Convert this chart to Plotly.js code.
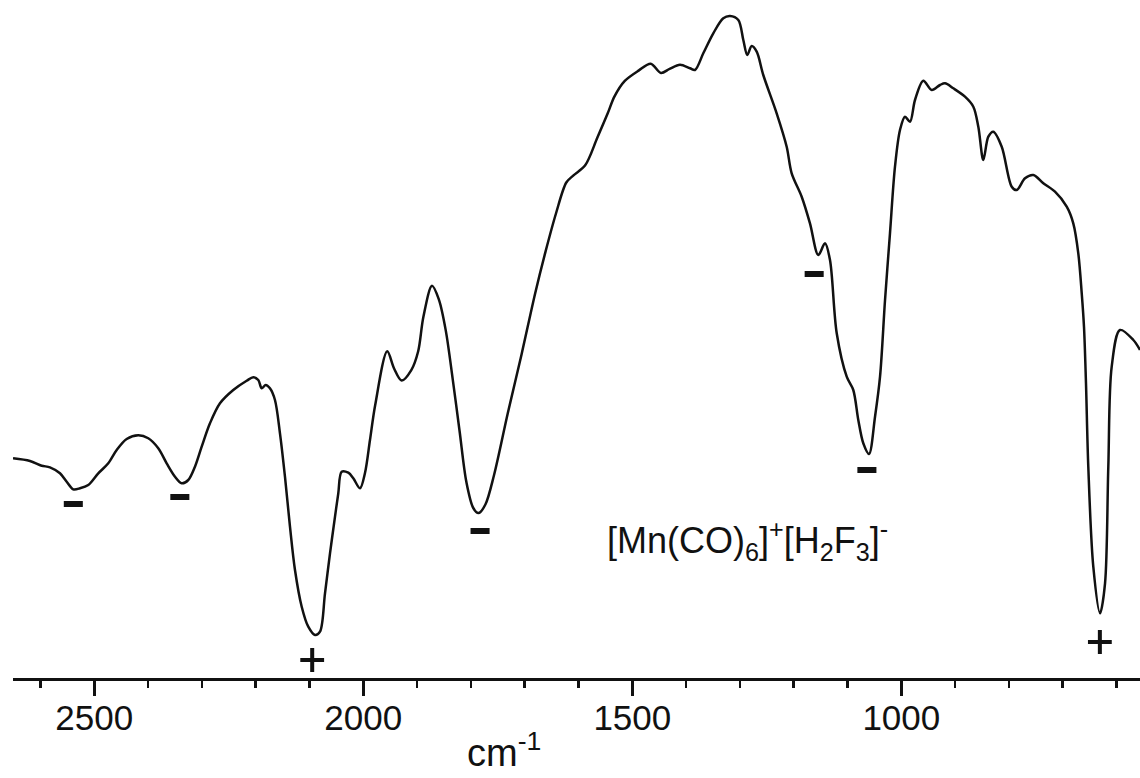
<!DOCTYPE html>
<html>
<head>
<meta charset="utf-8">
<script src="https://cdn.plot.ly/plotly-3.0.1.min.js"></script>
<style>
html,body{margin:0;padding:0;background:#fff;}
#chart{width:1140px;height:778px;}
</style>
</head>
<body>
<div id="chart"></div>
<script>
// IR spectrum of [Mn(CO)6]+[H2F3]- (transmittance, arbitrary units)
var wavenumber = [2651,2619.5,2597.8,2582.4,2563.8,2551.3,2539.1,2526.6,2511.2,2492.6,2474.0,2458.4,2439.8,2418.2,2399.7,2381.1,2365.5,2350.0,2337.6,2325.3,2312.9,2300.4,2285.0,2266.4,2241.7,2216.8,2204.5,2195.2,2188.9,2181.4,2173.5,2164.2,2154.9,2145.6,2136.3,2127.0,2114.5,2102.3,2089.8,2080.5,2071.2,2061.9,2052.6,2046.5,2040.2,2027.9,2018.6,2006.2,1996.9,1987.6,1977.9,1955.6,1942.8,1928.7,1910.8,1898.0,1888.3,1872.3,1859.5,1846.7,1833.9,1821.2,1808.4,1795.6,1785.9,1773.1,1757.1,1731.5,1706.0,1680.3,1661.2,1641.9,1622.7,1609.9,1587.6,1565.1,1545.9,1533.1,1514.0,1488.3,1465.8,1446.7,1430.7,1411.4,1392.8,1383.5,1368.1,1349.5,1330.9,1318.4,1303.0,1293.7,1286.3,1278.1,1268.8,1256.6,1231.7,1213.1,1203.8,1185.2,1169.8,1154.3,1141.9,1132.6,1120.1,1101.5,1089.3,1080.0,1070.7,1060.1,1048.9,1039.6,1030.3,1021.1,1011.8,1002.5,993.2,983.9,974.6,959.2,943.5,928.1,918.8,903.4,881.7,866.2,856.9,847.6,838.3,829.0,813.4,794.8,785.5,770.1,754.7,736.1,714.4,692.6,680.4,671.1,664.7,660.5,656.8,652.5,643.2,630.7,621.4,615.3,609.0,593.6,568.8,556.4];
var transmittance = [219.7,217,212.3,210.7,204.7,196.3,188.7,189.7,193,204.7,214.7,228,239,242.7,239.7,229.7,214.7,201.3,194.7,198,211.3,231.3,254.7,274.7,288,297.3,300.7,298,289.7,293,289.7,278,244.7,201.3,151.3,108,71.3,51.3,43,46.3,84.7,124.7,161.3,184.7,206.3,205.3,199.7,189.7,205,238,273,326.7,309.5,297.4,307.8,326.7,361.2,392.2,378.4,347.4,299.2,247.5,195.9,170,164.9,173.5,202.7,264.7,323.3,385.3,426.6,464.5,495.5,502.4,512.7,540.2,564.4,581.6,597.1,607.4,614.3,605.0,609.1,613.3,609.7,608,624.7,644.7,659.7,662,658,638,623,632,626.3,603,564.7,531.3,504.7,481.3,454.7,423,434.7,418,344.7,301.3,288,258,234.7,224,261.3,301.3,378,444.7,511.3,548,561.3,556.3,578,597.3,588,593,594.7,589.7,581.3,571.3,551.3,518,541.3,546.3,531.3,491.3,488,499.7,503,494.7,486.3,471.3,454.7,424.7,384.7,351.3,295,211.3,111.3,64.7,94.7,211.3,311.3,348,338,328];

// band markers: "−" (decrease) and "+" (increase)
var minusWn = [2539, 2341, 1783, 1162, 1064];
var minusY  = [174, 181, 147, 404, 208];
var plusWn  = [2095, 631];
var plusY   = [18, 36];

var compoundLabel = '[Mn(CO)<sub>6</sub>]<sup>+</sup>[H<sub>2</sub>F<sub>3</sub>]<sup>-</sup>';
var labelWn = 1286, labelY = 138;
var axisTitle = 'cm<sup>-1</sup>';

var xTickVals = [2500, 2000, 1500, 1000];
var xRange = [2651.1, 556.4];

var FONT = 'Liberation Sans, Arial, Helvetica, sans-serif';

var traces = [
  {x: wavenumber, y: transmittance, type: 'scatter', mode: 'lines',
   line: {color: '#111', width: 2.5, shape: 'spline', smoothing: 0.9}, hoverinfo: 'x+y'},
  {x: minusWn, y: minusY, type: 'scatter', mode: 'markers',
   marker: {symbol: 'line-ew', size: 13.6, color: '#111', line: {color: '#111', width: 6}}},
  {x: plusWn, y: plusY, type: 'scatter', mode: 'markers',
   marker: {symbol: 'cross-thin', size: 17, color: '#111', line: {color: '#111', width: 4}}}
];

var layout = {
  width: 1140, height: 778,
  margin: {l: 13, r: 0, t: 0, b: 100, pad: 0},
  paper_bgcolor: '#fff', plot_bgcolor: '#fff',
  showlegend: false,
  font: {family: FONT, color: '#111'},
  xaxis: {
    range: xRange, tickvals: xTickVals, ticktext: xTickVals.map(String),
    ticks: 'outside', ticklen: 15, tickwidth: 2.5, tickcolor: '#111',
    ticklabelstandoff: -8,
    showline: true, linecolor: '#111', linewidth: 3,
    showgrid: false, zeroline: false,
    tickfont: {size: 35, family: FONT, color: '#111'},
    minor: {dtick: 100, ticks: 'outside', ticklen: 7, tickwidth: 2.5, tickcolor: '#111', showgrid: false}
  },
  yaxis: {range: [0, 678], visible: false, showgrid: false, zeroline: false},
  annotations: [
    {x: labelWn, y: labelY, xref: 'x', yref: 'y', text: compoundLabel, showarrow: false,
     font: {size: 36, family: FONT, color: '#111'}, xanchor: 'center', yanchor: 'middle'},
    {x: 0.4357, y: -0.1445, xref: 'paper', yref: 'paper', text: axisTitle, showarrow: false,
     font: {size: 38, family: FONT, color: '#111'}, xanchor: 'center', yanchor: 'bottom'}
  ]
};

Plotly.newPlot('chart', traces, layout, {displayModeBar: false, staticPlot: true});
</script>
</body>
</html>
